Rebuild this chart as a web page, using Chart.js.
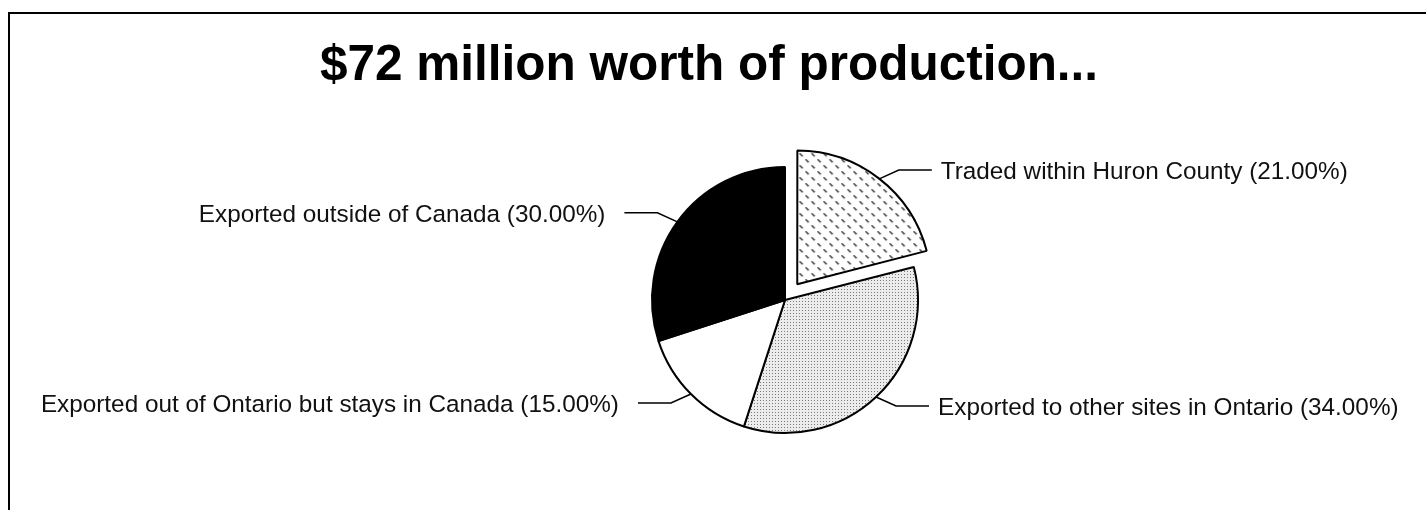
<!DOCTYPE html>
<html>
<head>
<meta charset="utf-8">
<script src="https://cdn.jsdelivr.net/npm/chart.js@4"></script>
<style>
  html, body { margin: 0; padding: 0; background: #fff; }
  #wrap { position: relative; width: 1426px; height: 510px; overflow: hidden; }
  #frame { position: absolute; left: 8px; top: 12px; width: 1500px; height: 600px;
           border-left: 2px solid #000; border-top: 2px solid #000; box-sizing: border-box; }
  canvas { position: absolute; left: 0; top: 0; }
</style>
</head>
<body>
<div id="wrap">
  <div id="frame"></div>
  <canvas id="c" width="1426" height="510"></canvas>
</div>
<script>
const chartTitle = "$72 million worth of production...";
const categories = [
  "Traded within Huron County",
  "Exported to other sites in Ontario",
  "Exported out of Ontario but stays in Canada",
  "Exported outside of Canada"
];
const shares = [21, 34, 15, 30];
const explode = [80, 0, 0, 0];

const canvas = document.getElementById('c');
const ctx = canvas.getContext('2d');

function hatchPattern() {
  const t = document.createElement('canvas');
  t.width = 12; t.height = 12;
  const g = t.getContext('2d');
  g.fillStyle = '#fff'; g.fillRect(0, 0, 12, 12);
  g.fillStyle = '#222';
  for (let i = 0; i < 3; i++) {
    g.fillRect(1 + i, 7 + i, 1.6, 1.2);
    g.fillRect(7 + i, 1 + i, 1.6, 1.2);
  }
  return ctx.createPattern(t, 'repeat');
}
function dotPattern() {
  const t = document.createElement('canvas');
  t.width = 3; t.height = 3;
  const g = t.getContext('2d');
  g.fillStyle = '#ececec'; g.fillRect(0, 0, 3, 3);
  g.fillStyle = '#7a7a7a'; g.fillRect(1, 1, 1, 1);
  return ctx.createPattern(t, 'repeat');
}

const labelFont = '24.3px "Liberation Sans", Arial, sans-serif';

const calloutPlugin = {
  id: 'callouts',
  afterDraw(chart) {
    const c = chart.ctx;
    const meta = chart.getDatasetMeta(0);
    c.save();
    c.font = 'bold 49.5px "Liberation Sans", Arial, sans-serif';
    c.fillStyle = '#000';
    c.textAlign = 'center';
    c.textBaseline = 'alphabetic';
    c.fillText(chartTitle, chart.width / 2 - 4, 80);

    c.font = labelFont;
    c.strokeStyle = '#000';
    c.lineWidth = 1.5;
    c.fillStyle = '#111';
    c.textBaseline = 'middle';
    meta.data.forEach((arc, i) => {
      const p = arc.getProps(['x', 'y', 'startAngle', 'endAngle', 'outerRadius'], true);
      const mid = (p.startAngle + p.endAngle) / 2;
      const off = (arc.options.offset || 0) / 4;
      const cx = p.x + Math.cos(mid) * off;
      const cy = p.y + Math.sin(mid) * off;
      const ex = cx + Math.cos(mid) * p.outerRadius;
      const ey = cy + Math.sin(mid) * p.outerRadius;
      const sx = Math.cos(mid) >= 0 ? 1 : -1;
      const sy = Math.sin(mid) >= 0 ? 1 : -1;
      const bx = ex + sx * 20;
      const by = ey + sy * 9;
      const lx = bx + sx * 33;
      c.beginPath();
      c.moveTo(ex, ey);
      c.lineTo(bx, by);
      c.lineTo(lx, by);
      c.stroke();
      const txt = categories[i] + ' (' + shares[i].toFixed(2) + '%)';
      c.textAlign = sx > 0 ? 'left' : 'right';
      c.fillText(txt, lx + sx * (sx > 0 ? 9 : 19), by + 2);
    });
    c.restore();
  }
};

new Chart(canvas, {
  type: 'pie',
  data: {
    labels: categories,
    datasets: [{
      data: shares,
      backgroundColor: [hatchPattern(), dotPattern(), '#ffffff', '#000000'],
      borderColor: '#000',
      borderWidth: 2,
      offset: explode
    }]
  },
  options: {
    responsive: false,
    animation: false,
    devicePixelRatio: 1,
    radius: 133,
    layout: { padding: { left: 200, right: 56, top: 140, bottom: 50 } },
    plugins: {
      legend: { display: false },
      tooltip: { enabled: false },
      title: { display: false }
    }
  },
  plugins: [calloutPlugin]
});
</script>
</body>
</html>
